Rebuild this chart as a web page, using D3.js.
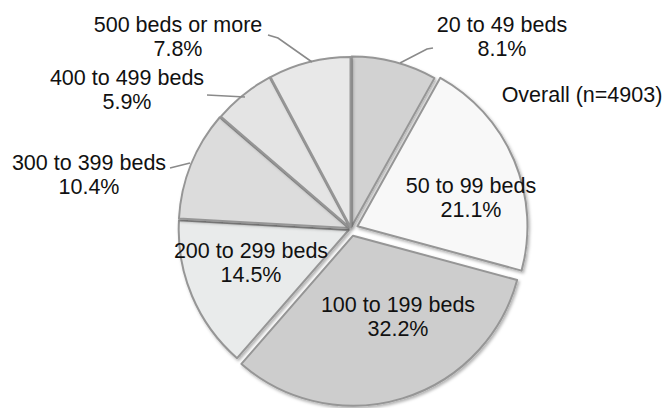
<!DOCTYPE html>
<html>
<head>
<meta charset="utf-8">
<script src="https://cdn.jsdelivr.net/npm/d3@7/dist/d3.min.js"></script>
<style>
  html, body { margin: 0; padding: 0; background: #fff; }
  svg { display: block; font-family: "Liberation Sans", Arial, sans-serif; }
</style>
</head>
<body>
<svg id="chart" width="664" height="408"></svg>
<script>
// Hospital size distribution (share of facilities by bed count)
const categories = ["20 to 49 beds", "50 to 99 beds", "100 to 199 beds", "200 to 299 beds",
                    "300 to 399 beds", "400 to 499 beds", "500 beds or more"];
const shares = [8.1, 21.1, 32.2, 14.5, 10.4, 5.9, 7.8];
const sampleLabel = "Overall (n=4903)";

// Presentation settings
const fills = ["#d2d2d2", "#f8f8f8", "#cdcdcd", "#e9ebeb", "#dcdcdc", "#e4e4e4", "#e8e8e8"];
const explode = [2.5, 7, 7, 2.5, 2.5, 2, 2];
const labelPos = [
  [502, 32], [471, 193], [398, 312], [251, 258], [89, 170], [127, 85], [178, 32]
];
const leaders = [
  [[433, 48], [427, 49], [400, 63]],
  null, null, null,
  [[170, 168], [190, 163]],
  [[207, 95], [245, 97]],
  [[268, 35], [278, 38], [312, 62]]
];

const svg = d3.select("#chart");
const cx = 351, cy = 229, R = 170;

const defs = svg.append("defs");
const f = defs.append("filter").attr("id", "shadow")
  .attr("x", "-10%").attr("y", "-10%").attr("width", "120%").attr("height", "120%");
f.append("feDropShadow").attr("dx", 1.5).attr("dy", 2).attr("stdDeviation", 1.8)
  .attr("flood-color", "#000").attr("flood-opacity", 0.3);

const pie = d3.pie().sort(null).value(d => d).startAngle(0).endAngle(2 * Math.PI);
const arcs = pie(shares);
const arc = d3.arc().innerRadius(0).outerRadius(R);

const g = svg.append("g").attr("transform", `translate(${cx},${cy})`);
g.selectAll("path.slice")
  .data(arcs)
  .join("path")
  .attr("class", "slice")
  .attr("transform", (d, i) => {
    const a = (d.startAngle + d.endAngle) / 2;
    return `translate(${Math.sin(a) * explode[i]},${-Math.cos(a) * explode[i]})`;
  })
  .attr("d", arc)
  .attr("fill", (d, i) => fills[i])
  .attr("stroke", "#969696")
  .attr("stroke-width", 2)
  .attr("stroke-linejoin", "round")
  .attr("filter", "url(#shadow)");

// Leader lines for the labels placed outside
const line = d3.line();
svg.selectAll("path.leader")
  .data(leaders.filter(d => d))
  .join("path")
  .attr("class", "leader")
  .attr("d", line)
  .attr("fill", "none")
  .attr("stroke", "#8a8a8a")
  .attr("stroke-width", 1.6);

// Category labels with their shares
const labels = svg.selectAll("text.lab")
  .data(categories)
  .join("text")
  .attr("class", "lab")
  .attr("text-anchor", "middle")
  .attr("font-size", 21.5)
  .attr("fill", "#111");
labels.append("tspan")
  .attr("x", (d, i) => labelPos[i][0])
  .attr("y", (d, i) => labelPos[i][1])
  .text(d => d);
labels.append("tspan")
  .attr("x", (d, i) => labelPos[i][0])
  .attr("y", (d, i) => labelPos[i][1] + 23.5)
  .text((d, i) => shares[i].toFixed(1) + "%");

svg.append("text")
  .attr("x", 582).attr("y", 102)
  .attr("text-anchor", "middle")
  .attr("font-size", 21.5)
  .attr("fill", "#111")
  .text(sampleLabel);
</script>
</body>
</html>
